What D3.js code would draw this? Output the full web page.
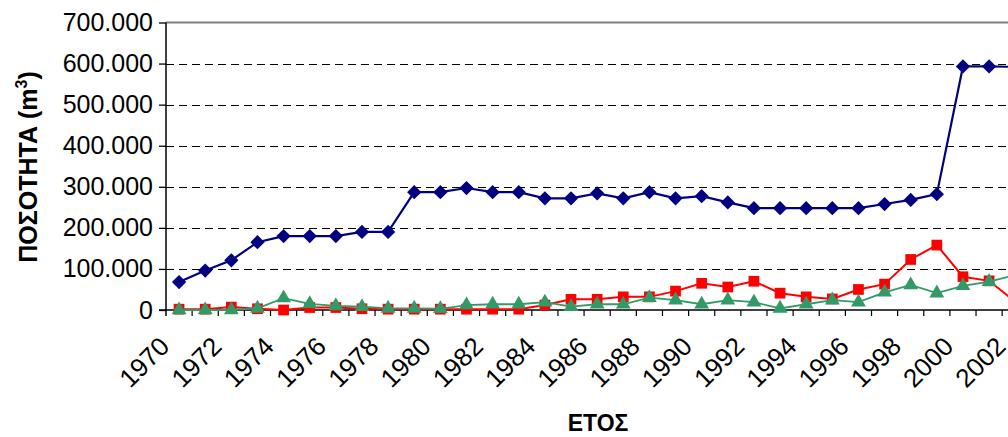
<!DOCTYPE html>
<html>
<head>
<meta charset="utf-8">
<script src="https://cdn.jsdelivr.net/npm/d3@7"></script>
<style>
  body { margin: 0; background: #fff; }
  svg { display: block; font-family: "Liberation Sans", Arial, sans-serif; }
</style>
</head>
<body>
<div id="chart"></div>
<script>
var years = d3.range(1970, 2003);

var seriesBlue = [68000, 96000, 121000, 165000, 180000, 180000, 180000, 190000, 190000, 287000,
                  287000, 297000, 287000, 287000, 272000, 272000, 284000, 272000, 287000, 272000,
                  277000, 262000, 248000, 248000, 248000, 248000, 248000, 258000, 268000, 282000,
                  593000, 593000, 592000];

var seriesRed = [2000, 2000, 7000, 3000, 0, 6000, 6000, 3000, 2000, 2000,
                 2000, 2000, 2000, 2000, 12000, 26000, 26000, 32000, 32000, 46000,
                 65000, 56000, 70000, 41000, 32000, 27000, 50000, 63000, 123000, 158000,
                 81000, 71000, 20000];

var seriesGreen = [0, 0, 0, 4000, 29000, 15000, 10000, 8000, 4000, 4000,
                   3000, 12000, 14000, 14000, 19000, 8000, 14000, 14000, 30000, 24000,
                   14000, 24000, 19000, 4000, 14000, 24000, 19000, 43000, 61000, 41000,
                   59000, 69000, 85000];

var yTicks = [0, 100000, 200000, 300000, 400000, 500000, 600000, 700000];

var width = 1008, height = 437;
var plotLeft = 166, plotBottom = 310, plotTop = 22.5, step = 26.13;

var svg = d3.select("#chart")
    .append("svg")
    .attr("width", width)
    .attr("height", height);

var x = d3.scaleBand().domain(years).range([plotLeft, plotLeft + years.length * step]).padding(0);
var y = d3.scaleLinear().domain([0, 700000]).range([plotBottom, plotTop]);

var gr = d3.formatLocale({decimal: ",", thousands: ".", grouping: [3], currency: ["", "€"]});
var fmt = gr.format(",");

// gridlines
svg.append("g")
    .selectAll("line")
    .data(yTicks.filter(function(d){ return d > 0 && d < 700000; }))
    .enter()
    .append("line")
    .attr("x1", plotLeft)
    .attr("x2", width)
    .attr("y1", function(d){ return Math.round(y(d)) + 0.5; })
    .attr("y2", function(d){ return Math.round(y(d)) + 0.5; })
    .attr("stroke", "#000")
    .attr("stroke-width", 1)
    .attr("stroke-dasharray", "8,5");

// top border of plot area
svg.append("line")
    .attr("x1", plotLeft).attr("x2", width)
    .attr("y1", y(700000)).attr("y2", y(700000))
    .attr("stroke", "#808080")
    .attr("stroke-width", 2);

// y axis
var yAxis = svg.append("g")
    .attr("transform", "translate(" + plotLeft + ",0)")
    .call(d3.axisLeft(y).tickValues(yTicks).tickFormat(fmt).tickSize(7).tickPadding(6));
yAxis.select(".domain").remove();
yAxis.selectAll("line").attr("stroke", "#000").attr("stroke-width", 1.3);
yAxis.selectAll("text")
    .attr("font-size", "25px")
    .attr("font-family", "Liberation Sans, Arial, sans-serif")
    .attr("fill", "#000");
svg.append("line")
    .attr("x1", plotLeft).attr("x2", plotLeft)
    .attr("y1", plotTop).attr("y2", plotBottom + 6)
    .attr("stroke", "#000")
    .attr("stroke-width", 1.5);

// x axis
svg.append("line")
    .attr("x1", plotLeft - 7).attr("x2", width)
    .attr("y1", plotBottom).attr("y2", plotBottom)
    .attr("stroke", "#000")
    .attr("stroke-width", 1.3);
svg.append("g")
    .selectAll("line")
    .data(years.slice(1).concat(["end"]))
    .enter()
    .append("line")
    .attr("x1", function(d){ return d === "end" ? x.range()[1] : x(d); })
    .attr("x2", function(d){ return d === "end" ? x.range()[1] : x(d); })
    .attr("y1", plotBottom)
    .attr("y2", plotBottom + 6)
    .attr("stroke", "#000")
    .attr("stroke-width", 1.2);

svg.append("g")
    .selectAll("text")
    .data(years.filter(function(d){ return d % 2 === 0; }))
    .enter()
    .append("text")
    .attr("transform", function(d){
        return "translate(" + (x(d) + x.bandwidth() / 2 - 8) + "," + (plotBottom + 38) + ") rotate(-45)";
    })
    .attr("text-anchor", "end")
    .attr("font-size", "26px")
    .attr("fill", "#000")
    .text(function(d){ return d; });

// axis titles
svg.append("text")
    .attr("x", 598)
    .attr("y", 431)
    .attr("text-anchor", "middle")
    .attr("font-size", "23px")
    .attr("font-weight", "bold")
    .text("ΕΤΟΣ");

var yTitle = svg.append("text")
    .attr("transform", "translate(37,167) rotate(-90)")
    .attr("text-anchor", "middle")
    .attr("font-size", "25px")
    .attr("font-weight", "bold");
yTitle.append("tspan").text("ΠΟΣΟΤΗΤΑ (m");
yTitle.append("tspan").attr("font-size", "16px").attr("dy", "-10").text("3");
yTitle.append("tspan").attr("dy", "10").text(")");

// series
var cx = function(d, i){ return x(years[i]) + x.bandwidth() / 2; };
var line = d3.line()
    .x(function(d, i){ return cx(d, i); })
    .y(function(d){ return y(d); });

var series = [
    {values: seriesBlue, color: "#000080", symbol: d3.symbolDiamond2, size: 130, width: 2.2},
    {values: seriesRed, color: "#FF0000", symbol: d3.symbolSquare, size: 115, width: 2},
    {values: seriesGreen, color: "#339966", symbol: d3.symbolTriangle, size: 95, width: 1.8}
];

series.forEach(function(s){
    svg.append("path")
        .datum(s.values)
        .attr("d", line)
        .attr("fill", "none")
        .attr("stroke", s.color)
        .attr("stroke-width", s.width);

    svg.append("g")
        .selectAll("path")
        .data(s.values)
        .enter()
        .append("path")
        .attr("d", d3.symbol().type(s.symbol).size(s.size))
        .attr("transform", function(d, i){ return "translate(" + cx(d, i) + "," + y(d) + ")"; })
        .attr("fill", s.color);
});
</script>
</body>
</html>
